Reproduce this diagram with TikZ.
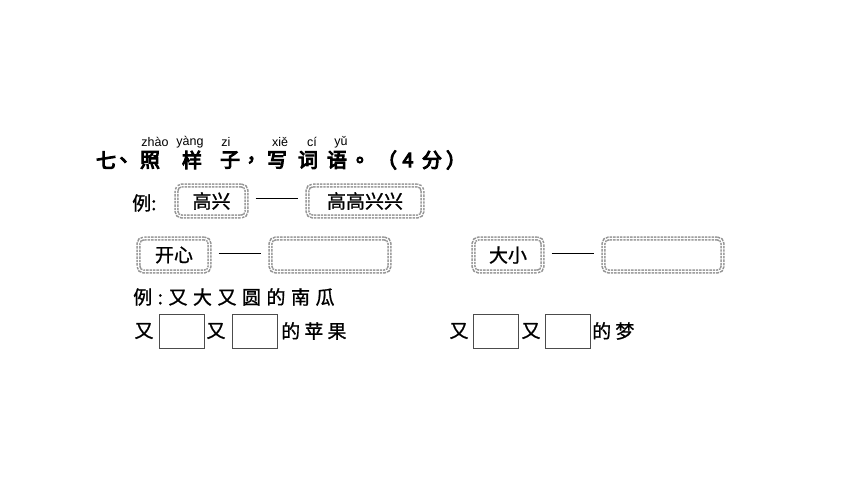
\documentclass[tikz,border=0pt]{standalone}
\usepackage{fontspec}
\newfontfamily\cjk{Noto Sans CJK SC}[FakeBold=1]
\newfontfamily\cjkb{Noto Sans CJK SC}[FakeBold=5]
\newfontfamily\cjkw{Noto Sans CJK SC}[LetterSpace=22,FakeBold=1]
\newfontfamily\cjkww{Noto Sans CJK SC}[LetterSpace=29,FakeBold=1]
\newfontfamily\py{Liberation Sans}
\begin{document}
\begin{tikzpicture}[x=1pt,y=-1pt,
  chain/.style={draw=gray!85, line width=4.2pt, rounded corners=5pt,
    dash pattern=on 2.4pt off 1.0pt, inner sep=0pt,
    postaction={draw=white, line width=1.1pt, solid}},
  sq/.style={draw=black!70, line width=0.6pt, minimum width=45pt, minimum height=34pt, inner sep=0pt},
  ttl/.style={inner sep=0pt, font=\cjkb\fontsize{20}{20}\selectfont},
  pin/.style={inner sep=0pt, font=\py\fontsize{12.5}{13}\selectfont},
  txt/.style={inner sep=0pt, font=\cjk\fontsize{19}{19}\selectfont},
  txtw/.style={inner sep=0pt, font=\cjkw\fontsize{19}{19}\selectfont},
  txtww/.style={inner sep=0pt, font=\cjkww\fontsize{19}{19}\selectfont},
  dashline/.style={line width=0.9pt, black, shorten >=7pt, shorten <=7pt}]
\useasboundingbox (0,0) rectangle (860,484);
\fill[white] (0,0) rectangle (860,484);
% pinyin
\node[pin] (p1) at (155,142) {zhào};
\node[pin] (p2) at (190,142) {yàng};
\node[pin] (p3) at (226,142) {zi};
\node[pin] (p4) at (280,142) {xiě};
\node[pin] (p5) at (312,142) {cí};
\node[pin] (p6) at (341,142) {yǔ};
% title
\node[ttl] (t1) at (106,160) {七};
\node[ttl] (t2) at (129.5,160) {、};
\node[ttl] (t3) at (150,160) {照};
\node[ttl] (t4) at (192,160) {样};
\node[ttl] (t5) at (230,160) {子};
\node[ttl] (t6) at (256.5,160) {，};
\node[ttl] (t7) at (277,160) {写};
\node[ttl] (t8) at (308,160) {词};
\node[ttl] (t9) at (337,160) {语};
\node[ttl] (t10) at (366,160) {。};
\node[ttl] (t11) at (387,160) {（};
\node[ttl] (t12) at (408,160) {4};
\node[ttl] (t13) at (432,160) {分};
\node[ttl] (t14) at (456,160) {）};
% example row
\node[txt, anchor=west] (ex1) at (132,203) {例:};
\node[chain, minimum width=70pt, minimum height=31pt, txt] (b1) at (211.5,201) {高兴};
\node[chain, minimum width=115pt, minimum height=31pt, txt] (b2) at (365,201) {高高兴兴};
\draw[dashline] ([yshift=3pt]b1.east) -- ([yshift=3pt]b2.west);
% row 2
\node[chain, minimum width=71pt, minimum height=33pt, txt] (b3) at (174,255) {开心};
\node[chain, minimum width=119pt, minimum height=33pt] (b4) at (330,255) {};
\draw[dashline] ([yshift=2pt]b3.east) -- ([yshift=2pt]b4.west);
\node[chain, minimum width=69pt, minimum height=33pt, txt] (b5) at (508,255) {大小};
\node[chain, minimum width=119pt, minimum height=33pt] (b6) at (663,255) {};
\draw[dashline] ([yshift=2pt]b5.east) -- ([yshift=2pt]b6.west);
% example 2
\node[txtww, anchor=west] (ex2) at (133,297) {例:又大又圆的南瓜};
% row 4
\node[txt] (y1) at (144,331) {又};
\node[sq] (s1) at (181.5,331) {};
\node[txt] (y2) at (216,331) {又};
\node[sq] (s2) at (255,331) {};
\node[txtw, anchor=west] (g1) at (281,331) {的苹果};
\node[txt] (y3) at (459,331) {又};
\node[sq] (s3) at (495.5,331) {};
\node[txt] (y4) at (531,331) {又};
\node[sq] (s4) at (567.5,331) {};
\node[txtw, anchor=west] (g2) at (592,331) {的梦};
\end{tikzpicture}
\end{document}
